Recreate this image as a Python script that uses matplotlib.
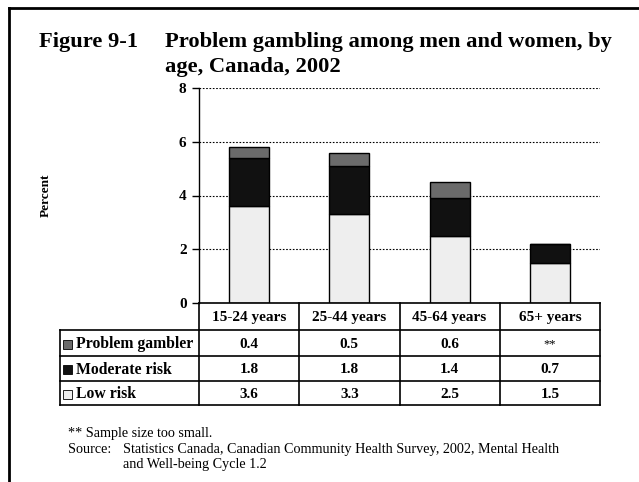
import numpy as np
import matplotlib.pyplot as plt
from matplotlib.patches import Rectangle
from matplotlib.lines import Line2D

ages = ['15-24 years', '25-44 years', '45-64 years', '65+ years']
low_risk = [3.6, 3.3, 2.5, 1.5]
moderate_risk = [1.8, 1.8, 1.4, 0.7]
problem_gambler = [0.4, 0.5, 0.6, np.nan]   # 65+ : sample too small
problem_labels = ['0.4', '0.5', '0.6', '**']
moderate_labels = ['1.8', '1.8', '1.4', '0.7']
low_labels = ['3.6', '3.3', '2.5', '1.5']
yticks = [0, 2, 4, 6, 8]

c_low = '#eeeeee'
c_mod = '#111111'
c_prob = '#6b6b6b'

plt.rcParams['font.family'] = 'Liberation Serif'
plt.rcParams['font.weight'] = 'bold'

W, H = 639, 482
fig = plt.figure(figsize=(W / 100, H / 100), dpi=100)


def fx(x):
    return x / W


def fy(y):
    return 1 - y / H


# frame around the figure (left and top only)
fig.add_artist(Line2D([fx(9), fx(9)], [fy(482), fy(8)], color='black', lw=2))
fig.add_artist(Line2D([fx(9), fx(639)], [fy(8), fy(8)], color='black', lw=2))

# title
tsize = 16.2
fig.text(fx(39), fy(47), 'Figure 9-1', fontsize=tsize, fontweight='bold', va='baseline')
fig.text(fx(165), fy(47), 'Problem gambling among men and women, by', fontsize=tsize,
         fontweight='bold', va='baseline')
fig.text(fx(165), fy(72), 'age, Canada, 2002', fontsize=tsize, fontweight='bold', va='baseline')

# chart
left, right, top, bottom = 199, 600, 88, 303
ax = fig.add_axes([fx(left), fy(bottom), fx(right - left), (bottom - top) / H])
x = np.arange(len(ages))
w = 0.4
ax.bar(x, low_risk, w, color=c_low, edgecolor='black', linewidth=1, zorder=3)
ax.bar(x, moderate_risk, w, bottom=low_risk, color=c_mod, edgecolor='black', linewidth=1, zorder=3)
base2 = np.add(low_risk, moderate_risk)
ax.bar(x, np.nan_to_num(problem_gambler), w, bottom=base2, color=c_prob, edgecolor='black',
       linewidth=1, zorder=3)
ax.set_xlim(-0.5, len(ages) - 0.5)
ax.set_ylim(0, 8)
ax.set_yticks(yticks)
ax.set_xticks([])
ax.tick_params(axis='y', direction='out', length=5, width=1, labelsize=11, pad=4)
for lab in ax.get_yticklabels():
    lab.set_fontweight('bold')
ax.yaxis.grid(True, linestyle=(0, (1.5, 1.5)), color='black', linewidth=0.8, zorder=1)
ax.spines['top'].set_visible(False)
ax.spines['right'].set_visible(False)
ax.spines['left'].set_linewidth(1)
ax.spines['bottom'].set_visible(False)
ax.set_ylabel('Percent', fontsize=9.5, fontweight='bold', labelpad=0)
ax.yaxis.set_label_coords((52 - left) / (right - left), 0.5)

# data table under the chart
rows = [('Problem gambler', c_prob, problem_labels),
        ('Moderate risk', c_mod, moderate_labels),
        ('Low risk', c_low, low_labels)]
tab_left = 60
row_y = [303, 330, 356, 381, 405]
col_x = [left + (right - left) * i / len(ages) for i in range(len(ages) + 1)]
lw = 1.2


def hline(x0, x1, y):
    fig.add_artist(Line2D([fx(x0), fx(x1)], [fy(y), fy(y)], color='black', lw=lw))


def vline(x0, y0, y1):
    fig.add_artist(Line2D([fx(x0), fx(x0)], [fy(y0), fy(y1)], color='black', lw=lw))


hline(left, right, row_y[0])
for y in row_y[1:]:
    hline(tab_left, right, y)
vline(tab_left, row_y[1], row_y[-1])
for cx in col_x:
    vline(cx, row_y[0], row_y[-1])

for i, a in enumerate(ages):
    cx = (col_x[i] + col_x[i + 1]) / 2
    fig.text(fx(cx), fy((row_y[0] + row_y[1]) / 2 + 1), a, fontsize=11, fontweight='bold',
             ha='center', va='center')

for r, (name, col, labs) in enumerate(rows):
    yc = (row_y[r + 1] + row_y[r + 2]) / 2 + 1
    fig.add_artist(Rectangle((fx(63), fy(yc + 4.5)), fx(9), 9 / H, facecolor=col,
                             edgecolor='black', linewidth=0.6))
    fig.text(fx(76), fy(yc), name, fontsize=11.3, fontweight='bold', va='center')
    for i, t in enumerate(labs):
        cx = (col_x[i] + col_x[i + 1]) / 2
        fig.text(fx(cx), fy(yc), t, fontsize=11 if t != '**' else 9,
                 fontweight='bold' if t != '**' else 'normal', ha='center', va='center')

# notes
nsize = 10.2
fig.text(fx(68), fy(437), '** Sample size too small.', fontsize=nsize, fontweight='normal', va='baseline')
fig.text(fx(68), fy(453), 'Source:', fontsize=nsize, fontweight='normal', va='baseline')
fig.text(fx(123), fy(453), 'Statistics Canada, Canadian Community Health Survey, 2002, Mental Health',
         fontsize=nsize, fontweight='normal', va='baseline')
fig.text(fx(123), fy(468), 'and Well-being Cycle 1.2', fontsize=nsize, fontweight='normal', va='baseline')

fig.savefig('out.png', dpi=100)
